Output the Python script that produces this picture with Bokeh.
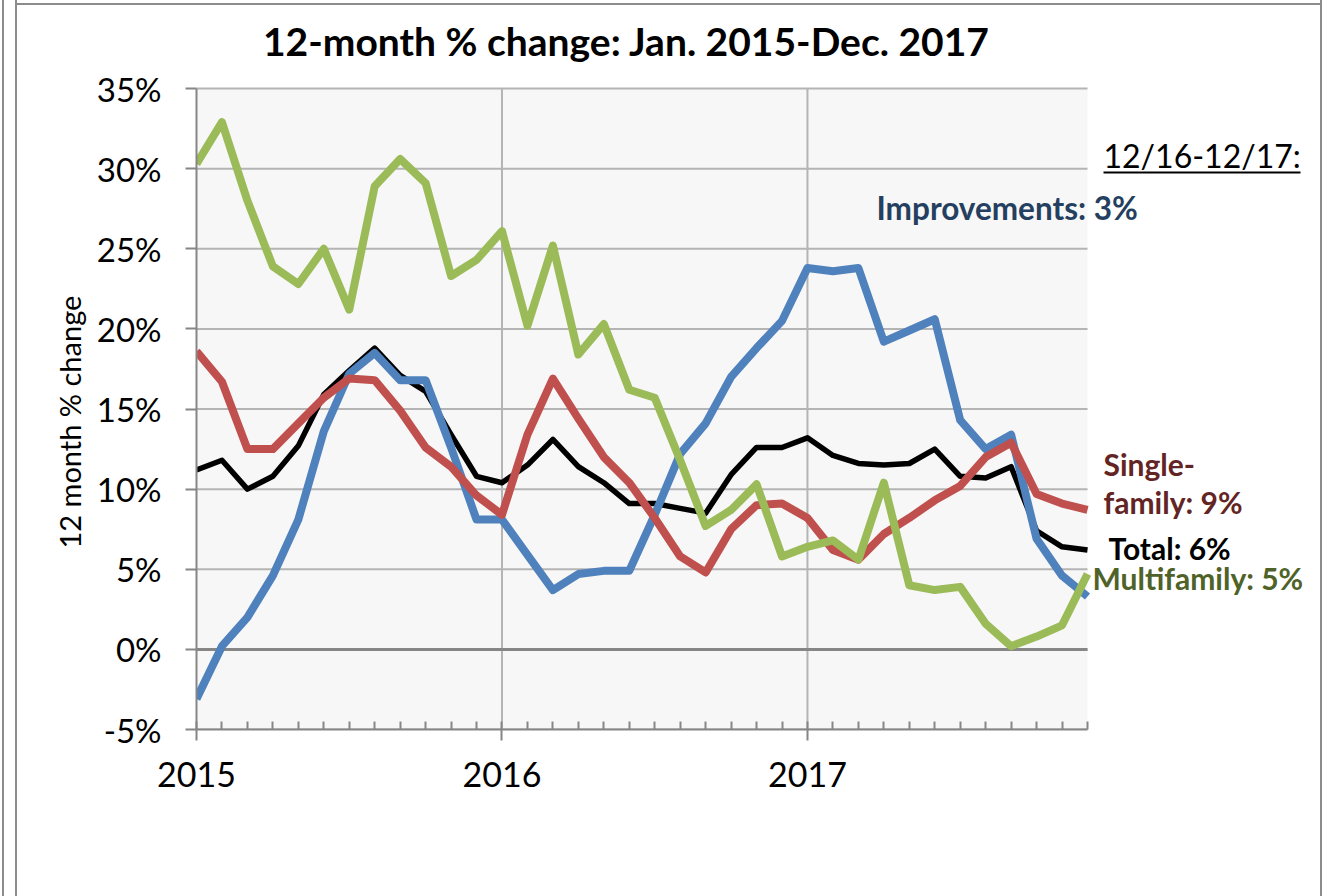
from bokeh.plotting import figure
from bokeh.models import FixedTicker, Label, BoxAnnotation, Range1d, Title
from bokeh.embed import file_html
from bokeh.resources import INLINE

# ---------------- data ----------------
months = list(range(36))  # Jan 2015 .. Dec 2017
year_ticks = [0, 12, 24]
year_labels = ["2015", "2016", "2017"]
y_ticks = [-5, 0, 5, 10, 15, 20, 25, 30, 35]

total = [11.2, 11.8, 10.0, 10.8, 12.7, 15.9, 17.4, 18.8, 17.1, 16.1, 13.4, 10.8,
         10.4, 11.5, 13.1, 11.4, 10.4, 9.1, 9.1, 8.8, 8.5, 10.9, 12.6, 12.6,
         13.2, 12.1, 11.6, 11.5, 11.6, 12.5, 10.8, 10.7, 11.4, 7.4, 6.4, 6.2]
single_family = [18.6, 16.7, 12.5, 12.5, 14.1, 15.7, 16.9, 16.8, 14.9, 12.6, 11.4, 9.6,
                 8.4, 13.4, 16.9, 14.4, 12.0, 10.4, 8.2, 5.8, 4.8, 7.5, 9.0, 9.1,
                 8.2, 6.2, 5.6, 7.2, 8.2, 9.3, 10.2, 12.0, 12.9, 9.7, 9.1, 8.7]
multifamily = [30.3, 32.9, 28.0, 23.9, 22.8, 25.0, 21.2, 28.9, 30.6, 29.1, 23.3, 24.3,
               26.1, 20.2, 25.2, 18.4, 20.3, 16.2, 15.7, 11.8, 7.7, 8.7, 10.3, 5.8,
               6.4, 6.8, 5.6, 10.4, 4.0, 3.7, 3.9, 1.6, 0.2, 0.8, 1.5, 4.7]
improvements = [-3.1, 0.2, 2.0, 4.6, 8.1, 13.6, 17.2, 18.5, 16.8, 16.8, 12.6, 8.1,
                8.1, 5.9, 3.7, 4.7, 4.9, 4.9, 8.4, 12.2, 14.1, 17.0, 18.8, 20.5,
                23.8, 23.6, 23.8, 19.2, 19.9, 20.6, 14.3, 12.5, 13.4, 6.9, 4.6, 3.3]

title_text = "12-month % change: Jan. 2015-Dec. 2017"
y_axis_label = "12 month % change"
period_text = "12/16-12/17:"
ann_improvements = "Improvements: 3%"
ann_single_1 = "Single-"
ann_single_2 = "family: 9%"
ann_total = "Total: 6%"
ann_multi = "Multifamily: 5%"

# ---------------- layout ----------------
FONT = "Lato"
X_MIN, X_MAX = months[0], months[-1]
Y_MIN, Y_MAX = y_ticks[0], y_ticks[-1]
PX_PER_MONTH = 891 / (X_MAX - X_MIN)     # plot area 891 px wide
PX_PER_PCT = 641 / (Y_MAX - Y_MIN)       # plot area 641 px tall
LEFT, BOTTOM = 196, 167
FRAME_W, FRAME_H = 1332 - LEFT, 896 - BOTTOM   # frame extends right / up for the texts

X_END = X_MIN + FRAME_W / PX_PER_MONTH
Y_END = Y_MIN + FRAME_H / PX_PER_PCT

p = figure(
    frame_width=FRAME_W, frame_height=FRAME_H,
    min_border_left=LEFT, min_border_right=0,
    min_border_top=0, min_border_bottom=BOTTOM,
    x_range=Range1d(X_MIN, X_END), y_range=Range1d(Y_MIN, Y_END),
    output_backend="svg", toolbar_location=None,
)
p.background_fill_color = None
p.border_fill_color = None
p.outline_line_color = None
p.grid.visible = False
# thin grey frame lines around the whole chart (drawn by CSS under the transparent canvas)
p.styles = {
    "background": "white",
    "box-shadow": ("inset 2px 0 0 0 #ffffff, inset 4px 0 0 0 #8c8c8c, "
                   "inset 15px 0 0 0 #ffffff, inset 17px 0 0 0 #8c8c8c, "
                   "inset -10px 0 0 0 #ffffff, inset -12px 0 0 0 #8c8c8c, "
                   "inset 0 3px 0 0 #ffffff, inset 0 5px 0 0 #8c8c8c"),
}


# helpers: pixel position in the picture -> data coords
def dx(px):
    return X_MIN + (px - LEFT) / PX_PER_MONTH


def dy(py):
    return Y_MAX - (py - 88) / PX_PER_PCT


# plot-area background
p.add_layout(BoxAnnotation(left=X_MIN, right=X_MAX, bottom=Y_MIN, top=Y_MAX,
                           fill_color="#F7F7F7", fill_alpha=1, line_color=None,
                           level="underlay"))

# gridlines (restricted to the plot area)
GRID = "#B4B4B4"
p.segment(x0=[X_MIN] * len(y_ticks), x1=[X_MAX] * len(y_ticks), y0=y_ticks, y1=y_ticks,
          line_color=GRID, line_width=2)
p.segment(x0=year_ticks[1:], x1=year_ticks[1:], y0=[Y_MIN] * 2, y1=[Y_MAX] * 2,
          line_color=GRID, line_width=2)
p.segment(x0=[X_MIN], x1=[X_MAX], y0=[0], y1=[0], line_color="#868686", line_width=3)

# axes
xa = p.xaxis[0]
xa.bounds = (X_MIN, X_MAX)
xa.ticker = FixedTicker(ticks=year_ticks, minor_ticks=months)
xa.major_label_overrides = {t: l for t, l in zip(year_ticks, year_labels)}
xa.major_tick_out = 11
xa.major_tick_in = 0
xa.minor_tick_in = 8
xa.minor_tick_out = 0
xa.axis_line_color = "#868686"
xa.axis_line_width = 2
xa.major_tick_line_color = "#868686"
xa.major_tick_line_width = 2
xa.minor_tick_line_color = "#868686"
xa.minor_tick_line_width = 2
xa.major_label_text_font = FONT
xa.major_label_text_font_size = "34px"
xa.major_label_text_color = "black"
xa.major_label_standoff = 21

ya = p.yaxis[0]
ya.bounds = (Y_MIN, Y_MAX)
ya.ticker = FixedTicker(ticks=y_ticks, minor_ticks=[])
ya.major_label_overrides = {t: f"{t}%" for t in y_ticks}
ya.major_tick_out = 11
ya.major_tick_in = 0
ya.axis_line_color = "#868686"
ya.axis_line_width = 2
ya.major_tick_line_color = "#868686"
ya.major_tick_line_width = 2
ya.major_label_text_font = FONT
ya.major_label_text_font_size = "33px"
ya.major_label_text_color = "black"
ya.major_label_standoff = 24

# y-axis title (as a side title so it can be placed like the reference)
p.add_layout(Title(text=y_axis_label, text_font=FONT, text_font_size="29px",
                   text_font_style="normal", text_color="black", align="left",
                   offset=181, standoff=14), "left")

# series
p.line(months, total, line_color="black", line_width=5.5, line_join="round")
p.line(months, improvements, line_color="#4F81BD", line_width=8, line_join="round")
p.line(months, single_family, line_color="#C0504D", line_width=8, line_join="round")
p.line(months, multifamily, line_color="#9BBB59", line_width=8, line_join="round")

# chart title
p.add_layout(Label(x=dx(626), y=dy(40), text=title_text, text_align="center",
                   text_baseline="middle", text_font=FONT, text_font_size="39px",
                   text_font_style="bold", text_color="black"))


# annotations
def ann(px, py, text, color, style="bold", size="30px"):
    p.add_layout(Label(x=dx(px), y=dy(py), text=text, text_align="left",
                       text_baseline="middle", text_font=FONT, text_font_size=size,
                       text_font_style=style, text_color=color))


ann(1103, 155, period_text, "black", style="normal", size="32px")
p.add_layout(BoxAnnotation(left=dx(1103), right=dx(1300), top=dy(171), bottom=dy(173),
                           fill_color="black", fill_alpha=1, line_color=None))
ann(876, 207, ann_improvements, "#243F60", size="31.5px")
ann(1103, 463, ann_single_1, "#632523")
ann(1103, 501, ann_single_2, "#632523")
ann(1108, 547, ann_total, "black")
ann(1092, 577, ann_multi, "#4F6228")

open("out.html", "w").write(file_html(p, INLINE))
